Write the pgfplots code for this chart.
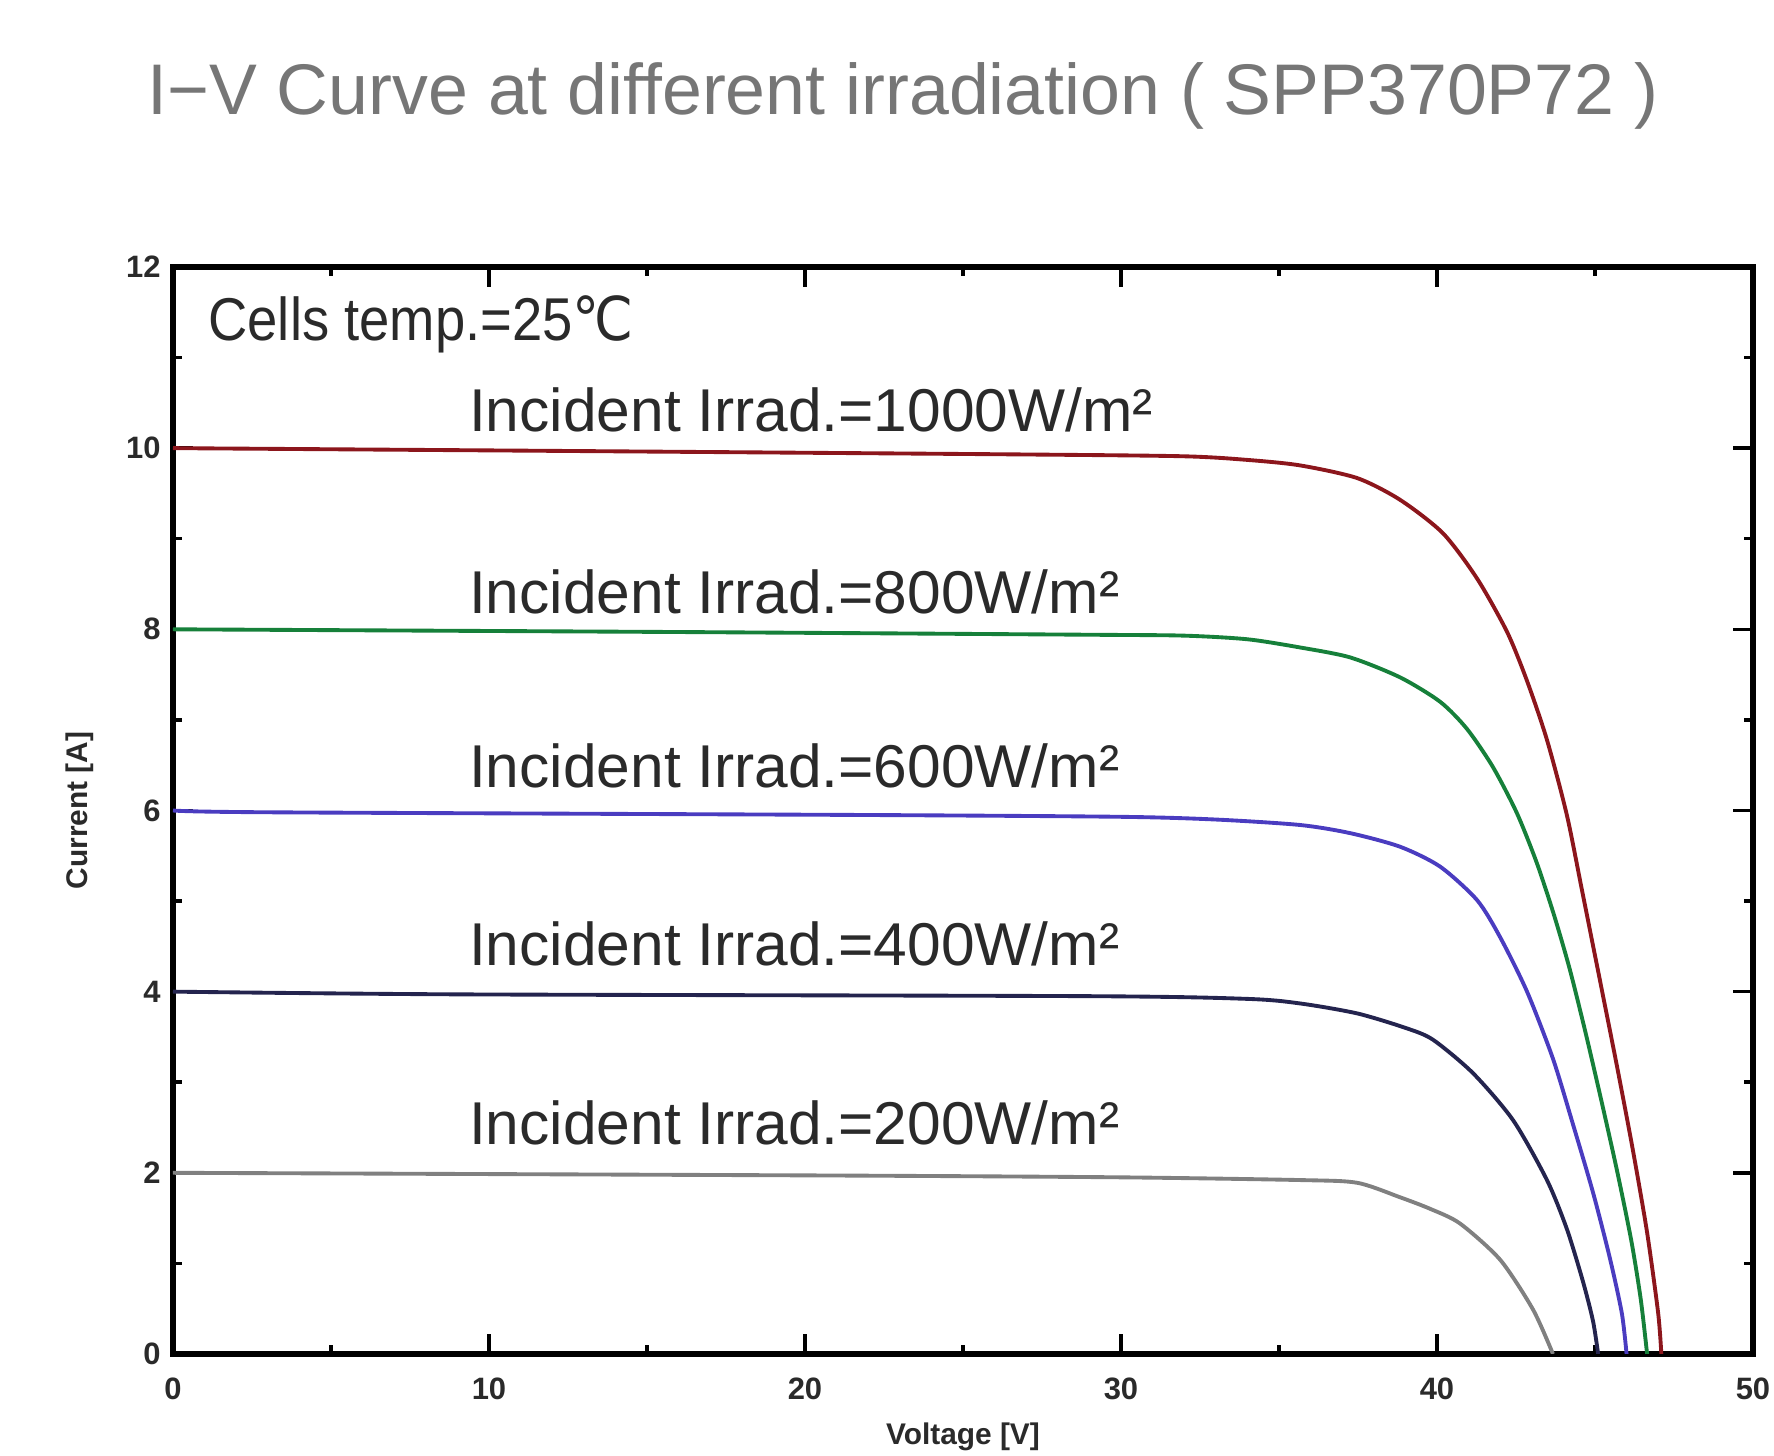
\documentclass[border=0pt]{standalone}
\usepackage{fontspec}
\setmainfont{Liberation Sans}
\newfontfamily\dejavu{DejaVu Sans}
\usepackage{pgfplots}
\pgfplotsset{compat=1.18}
\definecolor{cRed}{RGB}{140,22,28}
\definecolor{cGreen}{RGB}{22,128,58}
\definecolor{cBlue}{RGB}{74,60,192}
\definecolor{cNavy}{RGB}{36,36,78}
\definecolor{cGray}{RGB}{128,128,128}
\definecolor{txt}{RGB}{42,42,42}
\definecolor{ttl}{RGB}{118,118,118}
\begin{document}
\begin{tikzpicture}
\begin{axis}[
  scale only axis, width=15.8cm, height=10.87cm,
  xmin=0, xmax=50, ymin=0, ymax=12,
  xtick={0,10,...,50}, ytick={0,2,...,12},
  minor x tick num=1, minor y tick num=1,
  tick align=inside,
  major tick length=0.2cm, minor tick length=0.09cm,
  every tick/.style={black, line width=1pt},
  axis line style={line width=1.6pt},
  /pgf/number format/assume math mode=true,
  ticklabel style={font=\fontsize{8.8}{10}\selectfont\bfseries, text=txt},
  xticklabel style={yshift=-0.12cm},
  xlabel={Voltage [V]}, ylabel={Current [A]},
  every axis x label/.style={at={(axis description cs:0.5,0)}, yshift=-0.83cm, anchor=center, font=\fontsize{8.5}{10}\selectfont\bfseries, text=txt},
  every axis y label/.style={at={(axis description cs:0,0.5)}, xshift=-0.93cm, rotate=90, anchor=center, font=\fontsize{8.5}{10}\selectfont\bfseries, text=txt},
  every axis plot/.append style={line width=1.1pt, smooth, tension=0.45},
]
% 1000 W/m2
\addplot[cRed] coordinates {(0,10.0) (12,9.97) (27,9.93) (32,9.91) (34,9.87) (35.66,9.81) (37.47,9.67) (38.83,9.43) (40.19,9.06) (41.27,8.56) (42.22,7.97) (42.85,7.43) (43.48,6.78) (44.11,5.95) (44.6,5.10) (45.16,4.12) (45.70,3.17) (46.2,2.25) (46.65,1.34) (47.0,0.45) (47.1,0)};
% 800 W/m2
\addplot[cGreen] coordinates {(0,8.0) (16,7.97) (29,7.94) (32,7.93) (34,7.89) (35.66,7.80) (37.25,7.69) (38.83,7.47) (40.1,7.20) (40.95,6.90) (41.77,6.48) (42.53,5.97) (43.16,5.42) (43.7,4.85) (44.2,4.25) (44.7,3.55) (45.2,2.80) (45.7,2.02) (46.15,1.25) (46.45,0.6) (46.65,0)};
% 600 W/m2
\addplot[cBlue] coordinates {(0,6.0) (3,5.98) (22,5.95) (30,5.93) (33,5.90) (35.66,5.84) (37.25,5.75) (38.83,5.60) (40.1,5.38) (41.27,5.01) (42.0,4.60) (42.85,4.00) (43.67,3.26) (44.3,2.54) (44.94,1.78) (45.47,1.06) (45.85,0.45) (46.0,0)};
% 400 W/m2
\addplot[cNavy] coordinates {(0,4.0) (9,3.97) (29,3.95) (34,3.92) (35.66,3.87) (37.47,3.76) (39.0,3.60) (39.87,3.47) (41.14,3.10) (42.41,2.58) (43.48,1.92) (44.11,1.38) (44.62,0.80) (44.94,0.36) (45.1,0)};
% 200 W/m2
\addplot[cGray] coordinates {(0,2.0) (21,1.97) (30,1.95) (35.66,1.92) (37.47,1.89) (38.83,1.73) (39.8,1.60) (40.73,1.44) (42.0,1.04) (43.04,0.49) (43.67,0)};

\begin{scope}[every node/.style={anchor=base west, inner sep=0pt, font=\fontsize{17.2}{20}\selectfont, text=txt}]
\node at (axis cs:1.1,11.19) {\scalebox{0.9}[1]{Cells temp.=25{\dejavu ℃}}};
\node at (axis cs:9.35,10.18) {Incident Irrad.=1000W/m²};
\node at (axis cs:9.35,8.18) {Incident Irrad.=800W/m²};
\node at (axis cs:9.35,6.25) {Incident Irrad.=600W/m²};
\node at (axis cs:9.35,4.29) {Incident Irrad.=400W/m²};
\node at (axis cs:9.35,2.31) {Incident Irrad.=200W/m²};
\end{scope}
\end{axis}
\node[anchor=base, inner sep=0pt, font=\fontsize{20.4}{24}\selectfont, text=ttl] at (7.30,12.39) {I−V Curve at different irradiation ( SPP370P72 )};
\pgfresetboundingbox
\path (-1.73,-1.02) rectangle (16.01,13.54);
\end{tikzpicture}
\end{document}
